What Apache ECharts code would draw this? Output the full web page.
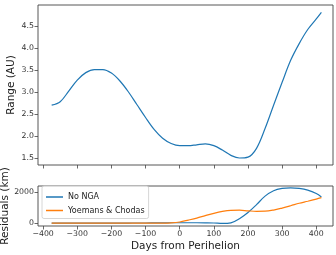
<!DOCTYPE html>
<html>
<head>
<meta charset="utf-8">
<script src="https://cdn.jsdelivr.net/npm/echarts@6/dist/echarts.min.js"></script>
<style>
  html, body { margin: 0; padding: 0; background: #fff; }
  #chart { width: 336px; height: 255px; }
</style>
</head>
<body>
<div id="chart"></div>
<script>
// top panel: range to the comet
const rangeDays = [-375, -350, -325, -300, -275, -250, -225, -200, -175, -150, -125, -100, -75, -50, -25, 0, 25, 50, 75, 100, 125, 150, 175, 200, 225, 250, 275, 300, 325, 350, 375, 400, 415];
const rangeAU = [2.70, 2.78, 3.02, 3.27, 3.44, 3.51, 3.51, 3.43, 3.25, 3.00, 2.71, 2.42, 2.15, 1.95, 1.83, 1.78, 1.78, 1.80, 1.82, 1.78, 1.68, 1.56, 1.50, 1.52, 1.72, 2.17, 2.70, 3.22, 3.72, 4.10, 4.42, 4.66, 4.81];

// bottom panel: residuals
const resDays = rangeDays;
const noNga = [0, 0, 0, 0, 0, 5, 5, 10, 10, 10, 15, 15, 20, 25, 30, 30, 30, 30, 25, 15, -15, 20, 290, 690, 1200, 1750, 2100, 2250, 2290, 2250, 2140, 1920, 1700];
const yoemans = [0, 0, 0, 0, 0, 0, 0, 0, 0, 0, 0, 0, 0, 5, 25, 80, 200, 330, 490, 640, 760, 830, 840, 800, 770, 775, 850, 980, 1130, 1290, 1420, 1560, 1650];

const xTicks = [-400, -300, -200, -100, 0, 100, 200, 300, 400];
const rangeTicks = [1.5, 2.0, 2.5, 3.0, 3.5, 4.0, 4.5];
const resTicks = [0, 2000];

const font = 'DejaVu Sans';
const fmtNum = (v) => (v < 0 ? '\u2212' + Math.abs(v) : String(v));
const zip = (xs, ys) => xs.map((x, i) => [x, ys[i]]);

const tick = { show: true, inside: false, length: 3.5, lineStyle: { color: '#444', width: 0.8 } };
const label = { show: true, fontFamily: font, fontSize: 7.8, color: '#333', margin: 4 };
const nameStyle = { fontFamily: font, fontSize: 10.5, color: '#222' };

function xAxis(gridIndex, showLabels, name) {
  return {
    type: 'value', gridIndex, min: -415, max: 449, position: 'bottom',
    axisLine: { show: false, onZero: false },
    splitLine: { show: false },
    axisTick: Object.assign({}, tick, { customValues: xTicks }),
    axisLabel: Object.assign({}, label, { show: showLabels, customValues: xTicks, formatter: fmtNum }),
    name: name || '', nameLocation: 'middle', nameGap: 15, nameMoveOverlap: false,
    nameTextStyle: nameStyle
  };
}

function yAxis(gridIndex, min, max, ticks, fmt, name, gap) {
  return {
    type: 'value', gridIndex, min, max, position: 'left',
    axisLine: { show: false, onZero: false },
    splitLine: { show: false },
    axisTick: Object.assign({}, tick, { customValues: ticks }),
    axisLabel: Object.assign({}, label, { customValues: ticks, formatter: fmt }),
    name, nameLocation: 'middle', nameGap: gap, nameMoveOverlap: false,
    nameTextStyle: nameStyle
  };
}

const gridBase = { left: 38, width: 295, show: true, borderColor: '#444', borderWidth: 0.9, backgroundColor: 'transparent', outerBoundsMode: 'none', containLabel: false };

const chart = echarts.init(document.getElementById('chart'), null, { renderer: 'canvas' });
chart.setOption({
  animation: false,
  backgroundColor: '#fff',
  grid: [
    Object.assign({}, gridBase, { top: 5, height: 160 }),
    Object.assign({}, gridBase, { top: 186, height: 40 })
  ],
  xAxis: [xAxis(0, false), xAxis(1, true, 'Days from Perihelion')],
  yAxis: [
    yAxis(0, 1.341, 4.977, rangeTicks, (v) => v.toFixed(1), 'Range (AU)', 21),
    yAxis(1, -180, 2405, resTicks, fmtNum, 'Residuals (km)', 27)
  ],
  legend: {
    left: 42, top: 186, orient: 'vertical',
    data: [{ name: 'No NGA' }, { name: 'Yoemans & Chodas' }],
    icon: 'rect', itemWidth: 17, itemHeight: 1.5, itemGap: 3.5,
    padding: [6, 4, 3, 4],
    borderColor: '#ccc', borderWidth: 0.8, borderRadius: 2,
    backgroundColor: 'rgba(255,255,255,0.8)',
    textStyle: { fontFamily: font, fontSize: 8, color: '#222', lineHeight: 10 }
  },
  series: [
    {
      name: 'Range', type: 'line', xAxisIndex: 0, yAxisIndex: 0,
      data: zip(rangeDays, rangeAU), smooth: 0.35, showSymbol: false,
      lineStyle: { color: '#1f77b4', width: 1.2 }, itemStyle: { color: '#1f77b4' }
    },
    {
      name: 'No NGA', type: 'line', xAxisIndex: 1, yAxisIndex: 1,
      data: zip(resDays, noNga), smooth: 0.35, showSymbol: false,
      lineStyle: { color: '#1f77b4', width: 1.2 }, itemStyle: { color: '#1f77b4' }
    },
    {
      name: 'Yoemans & Chodas', type: 'line', xAxisIndex: 1, yAxisIndex: 1,
      data: zip(resDays, yoemans), smooth: 0.35, showSymbol: false,
      lineStyle: { color: '#ff7f0e', width: 1.2 }, itemStyle: { color: '#ff7f0e' }
    }
  ]
});
</script>
</body>
</html>
